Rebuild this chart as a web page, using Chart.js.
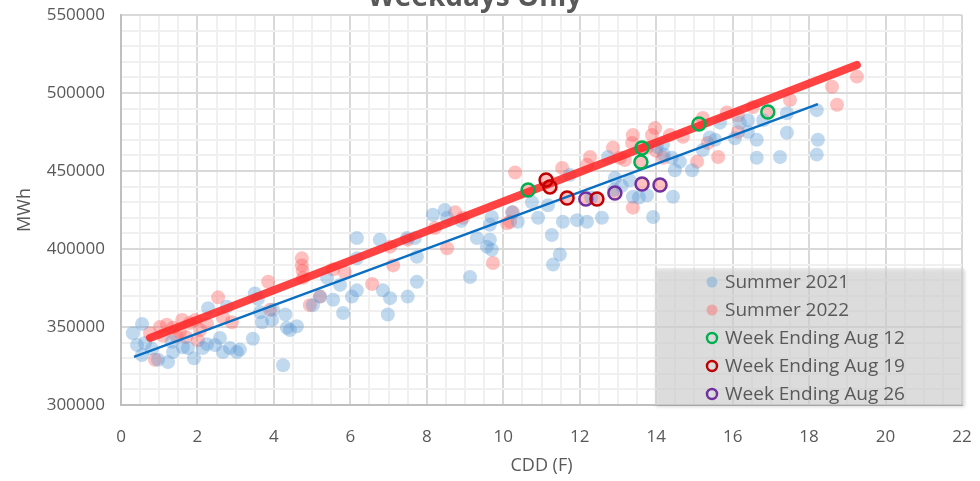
<!DOCTYPE html>
<html>
<head>
<meta charset="utf-8">
<script src="https://cdn.jsdelivr.net/npm/chart.js@4.4.0/dist/chart.umd.min.js"></script>
<style>
  html, body { margin: 0; padding: 0; background: #fff; }
</style>
</head>
<body>
<canvas id="chart" width="980" height="481"></canvas>
<script>
// Summer 2021 (CDD, MWh)
const cdd2021 = [0.31, 0.55, 0.42, 0.63, 0.55, 0.81, 0.97, 1.23, 1.36, 1.33, 1.62, 1.75, 1.91, 2.14, 2.25, 2.28, 2.46, 2.59, 2.77, 2.67,
  2.85, 3.03, 3.11, 3.45, 3.50, 3.58, 3.64, 3.69, 3.95, 3.98, 4.24, 4.30, 4.34, 4.42, 4.60, 5.02, 5.21, 5.55, 5.73, 5.81,
  6.04, 5.39, 6.17, 6.77, 7.48, 6.17, 7.74, 6.17, 6.85, 7.04, 7.50, 7.74, 6.98, 8.16, 8.47, 8.53, 7.69, 9.13, 9.31, 9.65,
  9.57, 9.70, 9.70, 9.65, 10.23, 10.38, 11.17, 10.91, 11.56, 11.27, 11.48, 11.30, 11.74, 11.93, 12.19, 12.58, 12.74, 12.92, 13.31, 13.39,
  13.55, 13.76, 13.92, 14.44, 14.02, 14.18, 14.41, 14.62, 14.49, 14.94, 15.22, 15.40, 15.67, 16.19, 15.54, 16.06, 16.40, 16.40, 16.63, 16.63,
  16.80, 17.24, 17.42, 17.42, 18.20, 18.23, 18.20, 10.75, 12.30, 12.90, 13.10, 14.20, 8.90];
const mwh2021 = [346000, 352000, 338500, 339700, 332000, 336000, 329000, 327500, 334000, 340500, 337000, 336500, 330000, 336500, 339000, 362000, 338500, 343000, 363000, 334000,
  336500, 334000, 335500, 342500, 371500, 368000, 359500, 353000, 354500, 361000, 325500, 358000, 349500, 348000, 350500, 364000, 369500, 367500, 377000, 359000,
  369500, 381500, 407000, 406000, 407000, 394000, 395000, 373500, 373500, 368500, 369500, 379000, 358000, 422000, 425000, 420000, 407000, 382000, 407000, 406000,
  401500, 420500, 399500, 415500, 423500, 417500, 428000, 420000, 417500, 409000, 396500, 390000, 447500, 418500, 417500, 420000, 459000, 445500, 444000, 433500,
  433000, 434500, 420500, 433500, 465500, 467000, 458500, 456000, 450500, 450500, 463500, 471500, 481000, 481000, 470000, 471000, 482500, 475000, 470000, 458500,
  482500, 459000, 487000, 474500, 489000, 470000, 460500, 430000, 433000, 438000, 440500, 460500, 418000];

// Summer 2022 (CDD, MWh)
const cdd2022 = [0.76, 0.89, 1.02, 1.20, 1.36, 1.54, 1.60, 1.70, 1.80, 1.94, 2.01, 2.07, 2.54, 2.67, 2.90, 3.85, 3.90, 4.73, 4.73, 4.75,
  4.76, 4.94, 5.55, 5.20, 5.85, 6.57, 7.04, 7.12, 7.50, 8.21, 8.74, 8.95, 8.53, 9.73, 10.18, 10.25, 10.31, 11.54, 10.10, 12.27,
  12.19, 12.87, 13.05, 13.39, 13.37, 13.89, 13.97, 13.76, 14.36, 14.70, 15.07, 15.22, 15.62, 15.85, 16.14, 16.14, 16.53, 17.50, 18.60, 18.73,
  19.25, 13.39, 14.18, 13.18, 15.35, 14.00, 1.45, 2.25, 1.10,
  10.65, 13.63, 13.60, 15.12, 16.92, 11.12, 11.22, 11.67, 12.45, 12.16, 12.92, 13.63, 14.10];
const mwh2022 = [346000, 329000, 350000, 351500, 349500, 347000, 354500, 343500, 352500, 354500, 341500, 348000, 369000, 356000, 353000, 379000, 361000, 394000, 389500, 386000,
  381500, 364000, 387000, 369500, 385000, 377500, 401500, 389500, 406000, 413500, 423500, 420000, 400500, 391000, 417500, 423500, 449000, 452000, 416500, 459000,
  454000, 465000, 458500, 473000, 468000, 473000, 477500, 465000, 473000, 472000, 456000, 484000, 459000, 487500, 485500, 475000, 491000, 495500, 504000, 492500,
  510500, 426500, 458500, 457000, 468000, 463000, 344000, 352000, 344500,
  437800, 464700, 455800, 480100, 487800, 444200, 439800, 432700, 432100, 432100, 435900, 441700, 441000];

// Highlighted weeks (summer 2022)
const cddAug12 = [10.65, 13.63, 13.60, 15.12, 16.92];
const mwhAug12 = [437800, 464700, 455800, 480100, 487800];
const cddAug19 = [11.12, 11.22, 11.67, 12.45];
const mwhAug19 = [444200, 439800, 432700, 432100];
const cddAug26 = [12.16, 12.92, 13.63, 14.10];
const mwhAug26 = [432100, 435900, 441700, 441000];

// Linear trend lines, end points
const trendCdd2021 = [0.34, 18.23];
const trendMwh2021 = [330800, 492900];
const trendCdd2022 = [0.76, 19.25];
const trendMwh2022 = [343000, 518000];

const toPoints = (xs, ys) => xs.map((x, i) => ({ x: x, y: ys[i] }));

const textGray = "#595959";
const fontFamily = "'Open Sans', 'Noto Sans', sans-serif";

// Chart title, partly cut off by the top edge like the original
const titlePlugin = {
  id: "cutTitle",
  afterDraw(chart) {
    const ctx = chart.ctx;
    ctx.save();
    ctx.font = "bold 28px " + fontFamily;
    ctx.fillStyle = textGray;
    ctx.textAlign = "center";
    ctx.textBaseline = "alphabetic";
    ctx.fillText("Weekdays Only", 475, 6);
    ctx.restore();
  }
};

// Legend box inside the plot, bottom right
const legendPlugin = {
  id: "boxLegend",
  afterDatasetsDraw(chart) {
    const ctx = chart.ctx;
    const area = chart.chartArea;
    const left = 655, top = 268, right = area.right + 2, bottom = area.bottom;
    ctx.save();
    ctx.shadowColor = "rgba(0,0,0,0.25)";
    ctx.shadowBlur = 3;
    ctx.shadowOffsetX = 1;
    ctx.shadowOffsetY = 2;
    ctx.fillStyle = "rgba(222,222,222,0.6)";
    ctx.fillRect(left, top, right - left, bottom - top);
    ctx.restore();

    ctx.save();
    ctx.font = "19px " + fontFamily;
    ctx.textBaseline = "middle";
    ctx.textAlign = "left";
    const items = chart.data.datasets.filter(d => d.legendRank !== undefined)
      .sort((a, b) => a.legendRank - b.legendRank);
    items.forEach((d, i) => {
      const y = 282 + i * 28;
      ctx.beginPath();
      ctx.arc(712, y, d.hollow ? 5 : 5.5, 0, Math.PI * 2);
      if (d.hollow) {
        ctx.lineWidth = 2.5;
        ctx.strokeStyle = d.borderColor;
        ctx.stroke();
      } else {
        ctx.fillStyle = d.legendColor;
        ctx.fill();
      }
      ctx.fillStyle = textGray;
      ctx.fillText(d.label, 725, y + 1);
    });
    ctx.restore();
  }
};

const ctx = document.getElementById("chart").getContext("2d");
new Chart(ctx, {
  type: "scatter",
  data: {
    datasets: [
      {
        label: "Week Ending Aug 12",
        data: toPoints(cddAug12, mwhAug12),
        legendRank: 2, hollow: true,
        borderColor: "#00b050", backgroundColor: "rgba(0,0,0,0)",
        pointRadius: 6.5, pointBorderWidth: 2.5, order: 0
      },
      {
        label: "Week Ending Aug 19",
        data: toPoints(cddAug19, mwhAug19),
        legendRank: 3, hollow: true,
        borderColor: "#c00000", backgroundColor: "rgba(0,0,0,0)",
        pointRadius: 6.5, pointBorderWidth: 2.5, order: 1
      },
      {
        label: "Week Ending Aug 26",
        data: toPoints(cddAug26, mwhAug26),
        legendRank: 4, hollow: true,
        borderColor: "#7030a0", backgroundColor: "rgba(0,0,0,0)",
        pointRadius: 6.5, pointBorderWidth: 2.5, order: 2
      },
      {
        label: "Trend 2021",
        data: toPoints(trendCdd2021, trendMwh2021),
        showLine: true, pointRadius: 0,
        borderColor: "#0a6fc2", borderWidth: 2.5, order: 3
      },
      {
        label: "Trend 2022",
        data: toPoints(trendCdd2022, trendMwh2022),
        showLine: true, pointRadius: 0,
        borderColor: "rgba(255,40,40,0.88)", borderWidth: 8, borderCapStyle: "round", order: 4
      },
      {
        label: "Summer 2021",
        data: toPoints(cdd2021, mwh2021),
        legendRank: 0, legendColor: "rgba(91,155,213,0.4)",
        backgroundColor: "rgba(91,155,213,0.38)", borderWidth: 0,
        pointRadius: 7, order: 5
      },
      {
        label: "Summer 2022",
        data: toPoints(cdd2022, mwh2022),
        legendRank: 1, legendColor: "rgba(255,90,90,0.4)",
        backgroundColor: "rgba(255,90,90,0.38)", borderWidth: 0,
        pointRadius: 7, order: 6
      }
    ]
  },
  options: {
    responsive: false,
    animation: false,
    layout: { padding: { top: 15, right: 18, left: 0, bottom: 0 } },
    plugins: {
      legend: { display: false },
      tooltip: { enabled: false },
      title: { display: false }
    },
    scales: {
      x: {
        type: "linear",
        min: 0, max: 22,
        afterFit: s => { s.height = 76; },
        border: { color: "#bfbfbf", width: 2 },
        grid: {
          drawTicks: true,
          tickLength: 20,
          tickColor: "rgba(0,0,0,0)",
          lineWidth: 2,
          color: c => (c.tick && c.tick.value % 2 === 0) ? "#d9d9d9" : "#f0f0f0"
        },
        ticks: {
          stepSize: 0.5, autoSkip: false, maxRotation: 0, padding: 2,
          color: textGray, font: { family: fontFamily, size: 17 },
          callback: v => (v % 2 === 0 ? String(v) : "")
        },
        title: {
          display: true, text: "CDD (F)", color: textGray,
          font: { family: fontFamily, size: 18 },
          padding: { top: 0, bottom: 4 }
        }
      },
      y: {
        type: "linear",
        min: 300000, max: 550000,
        afterFit: s => { s.width = 121; },
        border: { color: "#bfbfbf", width: 2 },
        grid: {
          drawTicks: true,
          tickLength: 14,
          tickColor: "rgba(0,0,0,0)",
          lineWidth: 2,
          color: c => (c.tick && c.tick.value % 50000 === 0) ? "#d9d9d9" : "#f0f0f0"
        },
        ticks: {
          stepSize: 10000, autoSkip: false, padding: 2,
          color: textGray, font: { family: fontFamily, size: 17 },
          callback: v => (v % 50000 === 0 ? String(v) : "")
        },
        title: {
          display: true, text: "MWh", color: textGray,
          font: { family: fontFamily, size: 18 },
          padding: { top: 14, bottom: 0 }
        }
      }
    }
  },
  plugins: [legendPlugin, titlePlugin]
});
</script>
</body>
</html>
